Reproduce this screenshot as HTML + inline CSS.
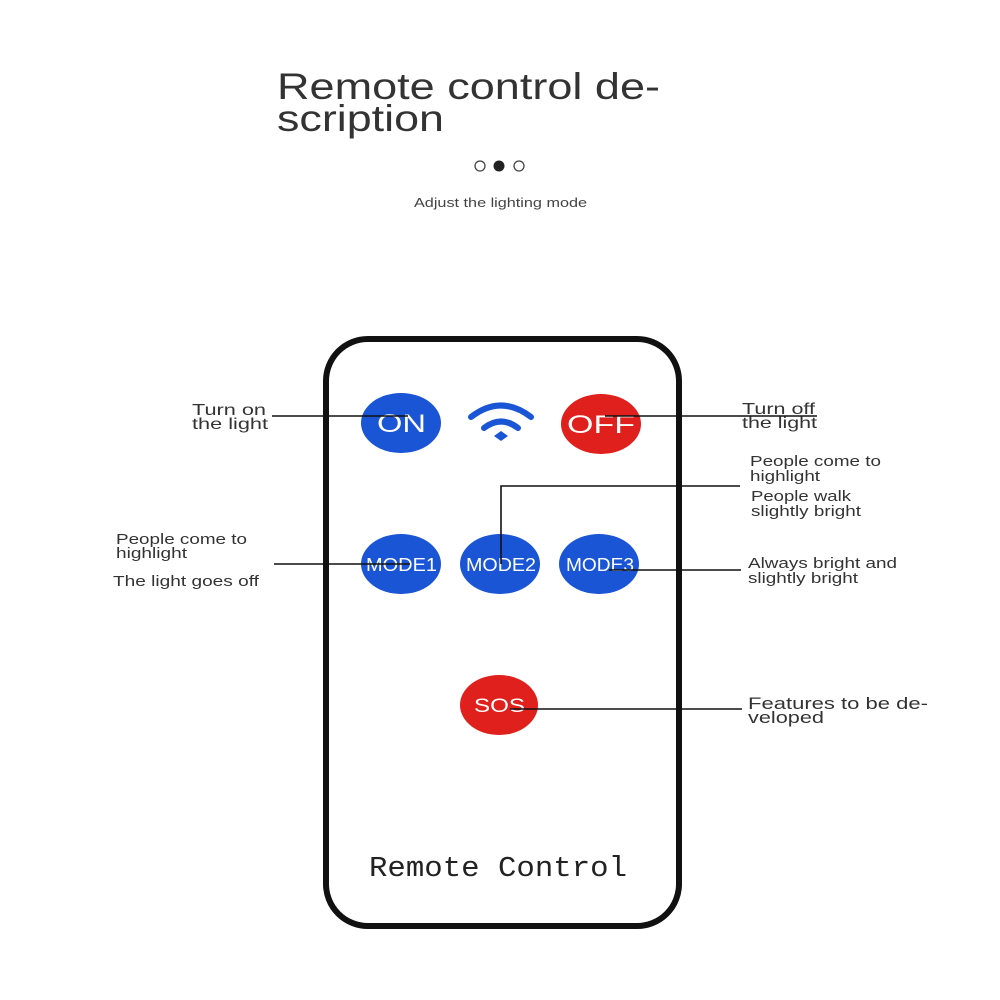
<!DOCTYPE html>
<html><head><meta charset="utf-8"><style>
html,body{margin:0;padding:0;background:#fff;}
svg{display:block;}
text{font-family:"Liberation Sans",sans-serif;}
</style></head><body>
<svg width="1000" height="1000" viewBox="0 0 1000 1000" xmlns="http://www.w3.org/2000/svg">
<rect width="1000" height="1000" fill="#fff"/>
<text x="277" y="99" font-size="37" fill="#333" textLength="383" lengthAdjust="spacingAndGlyphs">Remote control de-</text>
<text x="277" y="131" font-size="37" fill="#333" textLength="167" lengthAdjust="spacingAndGlyphs">scription</text>
<circle cx="480" cy="166" r="5" fill="none" stroke="#444" stroke-width="1.3"/>
<circle cx="499" cy="166" r="5.5" fill="#222"/>
<circle cx="519" cy="166" r="5" fill="none" stroke="#444" stroke-width="1.3"/>
<text x="414" y="207" font-size="13" fill="#444" textLength="173" lengthAdjust="spacingAndGlyphs">Adjust the lighting mode</text>

<rect x="326" y="339" width="353" height="587" rx="42" ry="42" fill="#fff" stroke="#111" stroke-width="6"/>

<g fill="#1a55d6">
<ellipse cx="401" cy="423" rx="40" ry="30"/>
<ellipse cx="401" cy="564" rx="40" ry="30"/>
<ellipse cx="500" cy="564" rx="40" ry="30"/>
<ellipse cx="599" cy="564" rx="40" ry="30"/>
</g>
<g fill="#e0201c">
<ellipse cx="601" cy="424" rx="40" ry="30"/>
<ellipse cx="499" cy="705" rx="39" ry="30"/>
</g>
<g fill="none" stroke="#1a55d6" stroke-width="6" stroke-linecap="round">
<path d="M471 417 Q501 394 531 417"/>
<path d="M484 428 Q501 415 518 428"/>
</g>
<path d="M494 436 L501 431 L508 436 L501 441 Z" fill="#1a55d6"/>
<g fill="#fff">
<text x="377" y="432" font-size="25" textLength="49" lengthAdjust="spacingAndGlyphs">ON</text>
<text x="567" y="433" font-size="25" textLength="68" lengthAdjust="spacingAndGlyphs">OFF</text>
<text x="366" y="571" font-size="18" textLength="71" lengthAdjust="spacingAndGlyphs">MODE1</text>
<text x="466" y="571" font-size="18" textLength="70" lengthAdjust="spacingAndGlyphs">MODE2</text>
<text x="566" y="571" font-size="18" textLength="68" lengthAdjust="spacingAndGlyphs">MODE3</text>
<text x="474" y="712" font-size="19" textLength="51" lengthAdjust="spacingAndGlyphs">SOS</text>
</g>

<g stroke="#111" stroke-width="1.6" fill="none">
<path d="M272 416 H408"/>
<path d="M605 416 H817"/>
<path d="M501 564 V486 H740"/>
<path d="M274 564 H410"/>
<path d="M609 570 H741"/>
<path d="M510 709 H742"/>
</g>

<g fill="#333" font-size="16" lengthAdjust="spacingAndGlyphs">
<text x="192" y="415" textLength="74" lengthAdjust="spacingAndGlyphs">Turn on</text>
<text x="192" y="429" textLength="76" lengthAdjust="spacingAndGlyphs">the light</text>
<text x="742" y="414" textLength="73" lengthAdjust="spacingAndGlyphs">Turn off</text>
<text x="742" y="428" textLength="75" lengthAdjust="spacingAndGlyphs">the light</text>
<text x="748" y="709" font-size="17" textLength="180" lengthAdjust="spacingAndGlyphs">Features to be de-</text>
<text x="748" y="723" font-size="17" textLength="76" lengthAdjust="spacingAndGlyphs">veloped</text>
</g>
<g fill="#333" font-size="14.5">
<text x="116" y="544" textLength="131" lengthAdjust="spacingAndGlyphs">People come to</text>
<text x="116" y="558" textLength="71" lengthAdjust="spacingAndGlyphs">highlight</text>
<text x="113" y="586" textLength="146" lengthAdjust="spacingAndGlyphs">The light goes off</text>
<text x="750" y="466" textLength="131" lengthAdjust="spacingAndGlyphs">People come to</text>
<text x="750" y="481" textLength="70" lengthAdjust="spacingAndGlyphs">highlight</text>
<text x="751" y="501" textLength="100" lengthAdjust="spacingAndGlyphs">People walk</text>
<text x="751" y="516" textLength="110" lengthAdjust="spacingAndGlyphs">slightly bright</text>
<text x="748" y="568" textLength="149" lengthAdjust="spacingAndGlyphs">Always bright and</text>
<text x="748" y="583" textLength="110" lengthAdjust="spacingAndGlyphs">slightly bright</text>
</g>
<text x="369" y="876" font-size="29" fill="#222" style="font-family:'Liberation Mono',monospace" textLength="258" lengthAdjust="spacingAndGlyphs">Remote Control</text>
</svg>
</body></html>
